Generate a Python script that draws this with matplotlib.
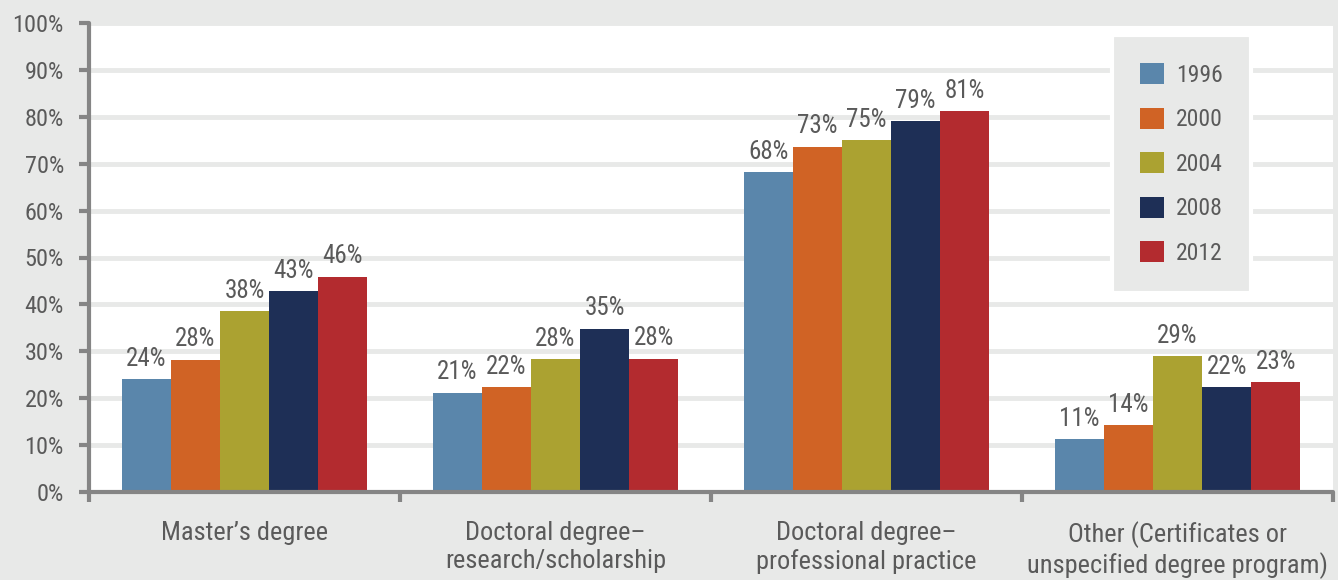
import matplotlib.pyplot as plt
import numpy as np

categories = ["Master\u2019s degree",
              "Doctoral degree\u2013\nresearch/scholarship",
              "Doctoral degree\u2013\nprofessional practice",
              "Other (Certificates or\nunspecified degree program)"]
years = ["1996", "2000", "2004", "2008", "2012"]
# labelled percentages
values = {
    "1996": [24, 21, 68, 11],
    "2000": [28, 22, 73, 14],
    "2004": [38, 28, 75, 29],
    "2008": [43, 35, 79, 22],
    "2012": [46, 28, 81, 23],
}
# bar heights (labels are rounded)
heights = {
    "1996": [24.0, 21.2, 68.2, 11.2],
    "2000": [28.2, 22.3, 73.6, 14.2],
    "2004": [38.6, 28.3, 75.0, 29.0],
    "2008": [42.8, 34.8, 79.0, 22.4],
    "2012": [45.9, 28.4, 81.2, 23.4],
}
colors = ["#5a86ab", "#d06325", "#aba231", "#1e2f56", "#b32b2f"]

bg = "#e8e9e8"
text_col = "#5a5a5a"
spine_col = "#858585"

plt.rcParams['font.family'] = ['Roboto Condensed', 'Liberation Sans Narrow',
                               'DejaVu Sans']

fig = plt.figure(figsize=(13.38, 5.8), dpi=100, facecolor=bg)
ax = fig.add_axes([89 / 1338, 88 / 580, 1244 / 1338, 469 / 580])
ax.set_facecolor("white")

x = np.arange(len(categories))
width = 0.158
for i, (year, col) in enumerate(zip(years, colors)):
    pos = x + (i - 2) * width
    ax.bar(pos, heights[year], width, color=col, label=year, zorder=2)
    for p, h, v in zip(pos, heights[year], values[year]):
        ax.text(p, h + 1.8, f"{v}%", ha="center", va="bottom",
                fontsize=18, color=text_col)

ax.set_xlim(-0.5, 3.5)
ax.set_ylim(0, 100)
ax.set_yticks(np.arange(0, 101, 10))
ax.set_yticklabels([f"{t}%" for t in range(0, 101, 10)])
ax.yaxis.grid(True, color=bg, linewidth=3.5, zorder=0)
ax.set_axisbelow(True)

ax.set_xticks(np.arange(-0.5, 4, 1))
ax.set_xticklabels([])
ax.set_xticks(x, minor=True)
ax.set_xticklabels(categories, minor=True, linespacing=1.22)
ax.tick_params(axis='x', which='minor', length=0, pad=21,
               labelsize=19, labelcolor=text_col)
ax.tick_params(axis='x', which='major', direction='out', length=7,
               width=3, color=spine_col)
ax.tick_params(axis='y', direction='out', length=7, width=3,
               color=spine_col, labelsize=17.5, labelcolor=text_col, pad=11)

for s in ['top', 'right']:
    ax.spines[s].set_visible(False)
for s in ['left', 'bottom']:
    ax.spines[s].set_color(spine_col)
    ax.spines[s].set_linewidth(3)
    ax.spines[s].set_capstyle('round')

leg = ax.legend(loc='upper right', bbox_to_anchor=(1162 / 1244, 457 / 469),
                frameon=True, fancybox=False, fontsize=17,
                handlelength=1.0, handleheight=1.0, handletextpad=0.5,
                labelspacing=0.88, borderpad=1.2, borderaxespad=0)
for t in leg.get_texts():
    t.set_color(text_col)
leg.get_frame().set_facecolor(bg)
leg.get_frame().set_edgecolor("white")
leg.get_frame().set_linewidth(3)
leg.get_frame().set_alpha(1)
leg.set_zorder(5)

fig.savefig("out.png", dpi=100, facecolor=bg)
